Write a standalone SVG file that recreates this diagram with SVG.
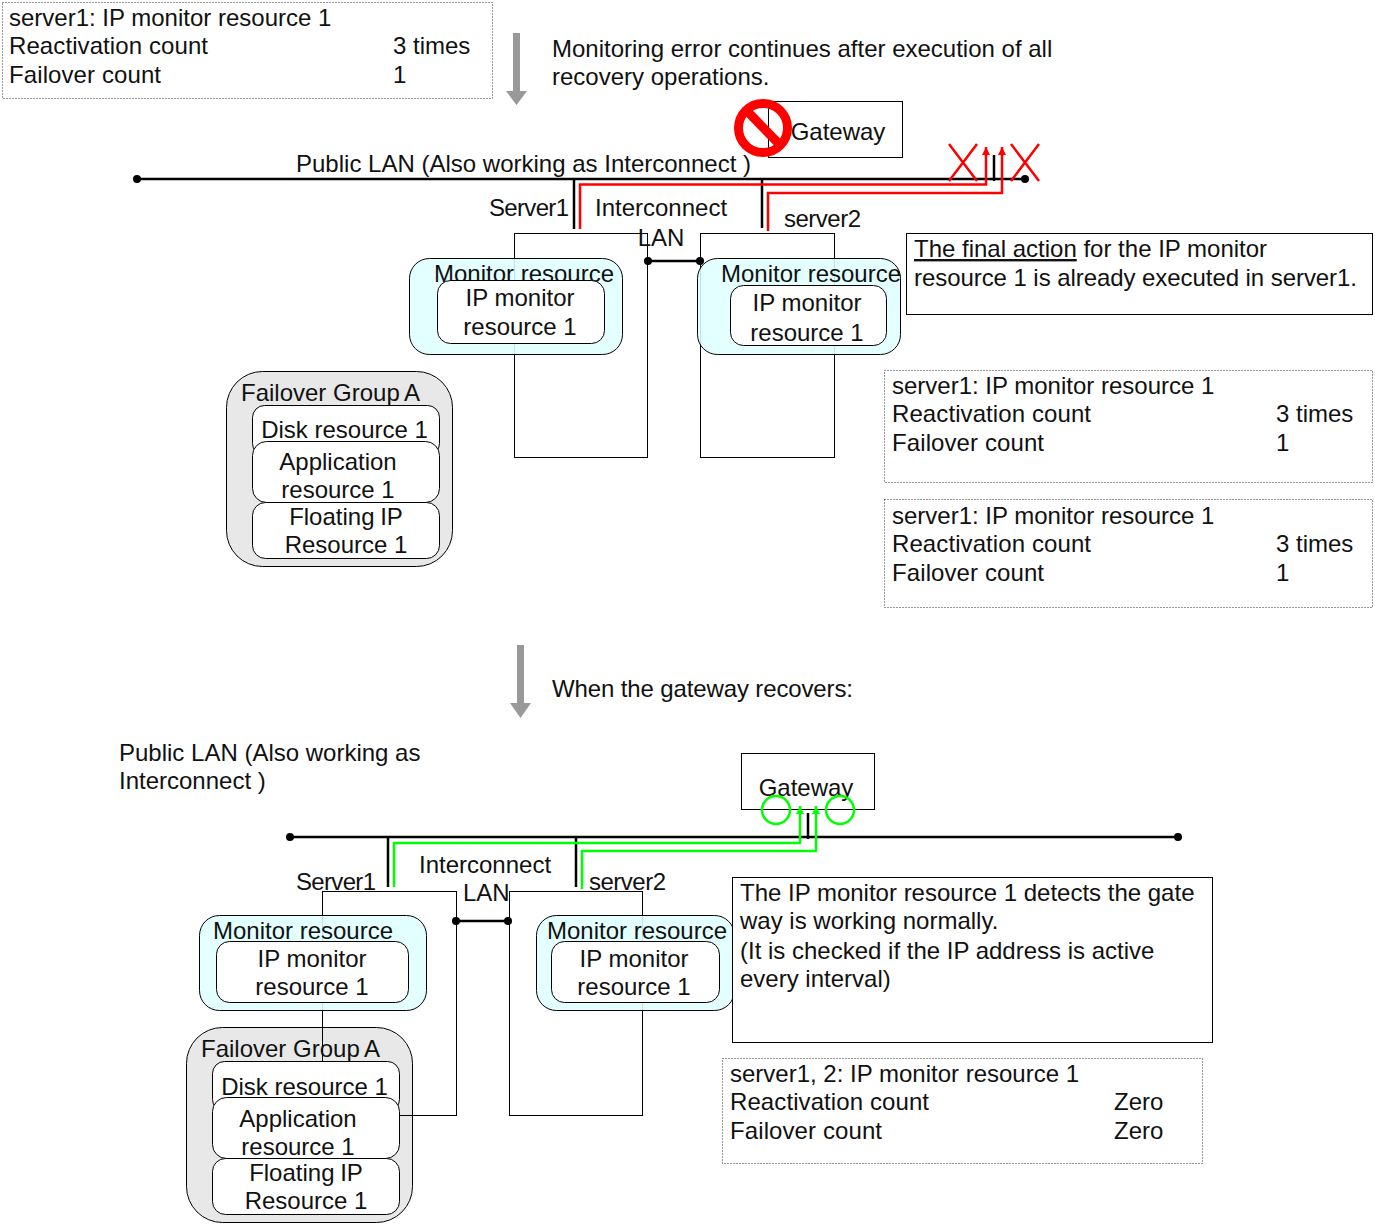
<svg xmlns="http://www.w3.org/2000/svg" width="1375" height="1225" viewBox="0 0 1375 1225">
<style>
text{font-family:"Liberation Sans",Arial,sans-serif;font-size:24px;fill:#111}
.m{text-anchor:middle}
.note{fill:#fff;stroke:#333;stroke-width:1;stroke-dasharray:1 2}
.solid{fill:#fff;stroke:#000;stroke-width:1}
.srv{fill:none;stroke:#000;stroke-width:1}
.mon{fill:#e0ffff;fill-opacity:.88;stroke:#000;stroke-width:1}
.in{fill:#fff;stroke:#000;stroke-width:1}
.fo{fill:#e8e8e8;stroke:#000;stroke-width:1}
.bus{fill:none;stroke:#000;stroke-width:2.5}
.red{fill:none;stroke:#f00;stroke-width:2.5}
.grn{fill:none;stroke:#0f0;stroke-width:2.5}
</style>
<defs>
<marker id="ar" markerUnits="userSpaceOnUse" markerWidth="8" markerHeight="9" refX="8" refY="4" orient="auto"><path d="M0 0L8 4L0 8z" fill="#f00"/></marker>
<marker id="ag" markerUnits="userSpaceOnUse" markerWidth="8" markerHeight="9" refX="8" refY="4" orient="auto"><path d="M0 0L8 4L0 8z" fill="#0f0"/></marker>
</defs>

<g id="note-top">
<rect class="note" x="2.5" y="2.5" width="490" height="96"/>
<text x="9" y="26">server1: IP monitor resource 1</text>
<text x="9" y="54" textLength="199">Reactivation count</text><text x="393" y="54">3 times</text>
<text x="9" y="83" textLength="152">Failover count</text><text x="393" y="83">1</text>
</g>
<g id="caption-top"><text x="552" y="57">Monitoring error continues after execution of all</text><text x="552" y="85">recovery operations.</text></g>
<g id="arrow-down-1" fill="#999"><path d="M513 33h7v58h7l-10.500 14l-10.500 -14h7z"/></g>

<g id="gateway-top">
<rect class="solid" x="768.500" y="101.500" width="134" height="56"/>
<text class="m" x="838" y="140">Gateway</text>
</g>
<g id="no-sign" fill="none" stroke="#f00" stroke-width="9"><circle cx="763" cy="128" r="24.500"/><path d="M746 110L781 146"/></g>

<g id="lan-top-label"><text x="296" y="172" textLength="455">Public LAN (Also working as Interconnect )</text></g>

<g id="server1-top">
<rect class="srv" x="514.500" y="233.500" width="133" height="224"/>
<text x="489" y="216" textLength="80">Server1</text>
<text x="595" y="216">Interconnect</text><text class="m" x="661" y="246">LAN</text>
</g>
<g id="server2-top">
<rect class="srv" x="700.500" y="233.500" width="134" height="224"/>
<text x="784" y="227" textLength="77">server2</text>
</g>

<g id="connectors-top">
<path class="bus" d="M137 179H1025M574 179V229M762 179V228M994 155V181M648 261H700"/>
<g fill="#000"><circle cx="137" cy="179" r="4"/><circle cx="1025" cy="179" r="4"/><circle cx="648" cy="261" r="4"/><circle cx="700" cy="261" r="4"/></g>
<path class="red" marker-end="url(#ar)" d="M580 229V184.500H986V147"/>
<path class="red" marker-end="url(#ar)" d="M768 231V193H1002V147"/>
<path class="red" d="M949 144L977 181M977 144L949 181M1011 144L1039 181M1039 144L1011 181" stroke-width="3"/>
</g>

<g id="monitor-s1-top">
<rect class="mon" x="409.500" y="258.500" width="213" height="96" rx="20"/>
<text class="m" x="524" y="282">Monitor resource</text>
<rect class="in" x="437.500" y="280.500" width="167" height="63" rx="13"/>
<text class="m" x="520" y="306">IP monitor</text><text class="m" x="520" y="335">resource 1</text>
</g>
<g id="monitor-s2-top">
<rect class="mon" x="697.500" y="258.500" width="203" height="96" rx="20"/>
<text class="m" x="811" y="282">Monitor resource</text>
<rect class="in" x="730.500" y="285.500" width="156" height="60" rx="13"/>
<text class="m" x="807" y="311">IP monitor</text><text class="m" x="807" y="341">resource 1</text>
</g>

<g id="failover-top">
<rect class="fo" x="226.500" y="371.500" width="226" height="195" rx="36"/>
<text x="241" y="401">Failover Group<tspan dx="-1"> A</tspan></text>
<rect class="in" x="252.500" y="405.500" width="187" height="50" rx="12"/>
<text class="m" x="344.500" y="438">Disk resource 1</text>
<rect class="in" x="252.500" y="441.500" width="187" height="61" rx="14"/>
<text class="m" x="338" y="470">Application</text><text class="m" x="338" y="498">resource 1</text>
<rect class="in" x="252.500" y="502.500" width="187" height="56" rx="13"/>
<text class="m" x="346" y="525">Floating<tspan dx="-1"> IP</tspan></text><text class="m" x="346" y="553">Resource 1</text>
</g>

<g id="note-final">
<rect class="solid" x="906.500" y="233.500" width="466" height="81"/>
<text x="914" y="257"><tspan text-decoration="underline">The final action</tspan> for the IP monitor</text>
<text x="914" y="286" textLength="443">resource 1 is already executed in server1.</text>
</g>
<g id="note-mid-1">
<rect class="note" x="884.500" y="370.500" width="488" height="112"/>
<text x="892" y="394">server1: IP monitor resource 1</text>
<text x="892" y="422" textLength="199">Reactivation count</text><text x="1276" y="422">3 times</text>
<text x="892" y="451" textLength="152">Failover count</text><text x="1276" y="451">1</text>
</g>
<g id="note-mid-2">
<rect class="note" x="884.500" y="499.500" width="488" height="108"/>
<text x="892" y="524">server1: IP monitor resource 1</text>
<text x="892" y="552" textLength="199">Reactivation count</text><text x="1276" y="552">3 times</text>
<text x="892" y="581" textLength="152">Failover count</text><text x="1276" y="581">1</text>
</g>

<g id="arrow-down-2" fill="#999"><path d="M517 645h7v58h7l-10.500 15l-10.500 -15h7z"/></g>
<g id="caption-bottom"><text x="552" y="697" textLength="301">When the gateway recovers:</text></g>

<g id="lan-bottom-label"><text x="119" y="761">Public LAN (Also working as</text><text x="119" y="789">Interconnect )</text></g>

<g id="gateway-bottom">
<rect class="solid" x="741.500" y="753.500" width="133" height="56"/>
<text class="m" x="806" y="796">Gateway</text>
</g>

<g id="failover-bottom-bg"><rect class="fo" x="186.500" y="1027.500" width="226" height="195" rx="36"/></g>

<g id="server1-bottom">
<rect class="srv" x="322.500" y="891.500" width="134" height="224"/>
<text x="296" y="890" textLength="80">Server1</text>
<text x="419" y="873">Interconnect</text><text x="463" y="901">LAN</text>
</g>
<g id="server2-bottom">
<rect class="srv" x="509.500" y="891.500" width="133" height="224"/>
<text x="589" y="890" textLength="77">server2</text>
</g>

<g id="connectors-bottom">
<path class="bus" d="M290 837H1178M388 837V887M576 837V887M808 813V839M456 921H508"/>
<g fill="#000"><circle cx="290" cy="837" r="4"/><circle cx="1178" cy="837" r="4"/><circle cx="456" cy="921" r="4"/><circle cx="508" cy="921" r="4"/></g>
<path class="grn" marker-end="url(#ag)" d="M394 887V843H800V806"/>
<path class="grn" marker-end="url(#ag)" d="M582 889V851H816V806"/>
<circle class="grn" cx="776" cy="810" r="14"/><circle class="grn" cx="840" cy="810" r="14"/>
</g>

<g id="monitor-s1-bottom">
<rect class="mon" x="199.500" y="915.500" width="227" height="95" rx="20"/>
<text class="m" x="303" y="939">Monitor resource</text>
<rect class="in" x="216.500" y="941.500" width="192" height="61" rx="13"/>
<text class="m" x="312" y="967">IP monitor</text><text class="m" x="312" y="995">resource 1</text>
</g>
<g id="monitor-s2-bottom">
<rect class="mon" x="536.500" y="915.500" width="198" height="95" rx="20"/>
<text class="m" x="637" y="939">Monitor resource</text>
<rect class="in" x="551.500" y="941.500" width="168" height="61" rx="13"/>
<text class="m" x="634" y="967">IP monitor</text><text class="m" x="634" y="995">resource 1</text>
</g>

<g id="failover-bottom">
<text x="201" y="1057">Failover Group<tspan dx="-1"> A</tspan></text>
<rect class="in" x="212.500" y="1061.500" width="187" height="50" rx="12"/>
<text class="m" x="304.500" y="1095">Disk resource 1</text>
<rect class="in" x="212.500" y="1097.500" width="187" height="61" rx="14"/>
<text class="m" x="298" y="1127">Application</text><text class="m" x="298" y="1155">resource 1</text>
<rect class="in" x="212.500" y="1158.500" width="187" height="56" rx="13"/>
<text class="m" x="306" y="1181">Floating<tspan dx="-1"> IP</tspan></text><text class="m" x="306" y="1209">Resource 1</text>
</g>

<g id="note-detects">
<rect class="solid" x="732.500" y="877.500" width="480" height="165"/>
<text x="740" y="901">The IP monitor resource 1 detects the gate</text>
<text x="740" y="929">way is working normally.</text>
<text x="740" y="959">(It is checked if the IP address is active</text>
<text x="740" y="987">every interval)</text>
</g>
<g id="note-bottom">
<rect class="note" x="722.500" y="1058.500" width="480" height="105"/>
<text x="730" y="1082">server1, 2: IP monitor resource 1</text>
<text x="730" y="1110" textLength="199">Reactivation count</text><text x="1114" y="1110">Zero</text>
<text x="730" y="1139" textLength="152">Failover count</text><text x="1114" y="1139">Zero</text>
</g>
</svg>
